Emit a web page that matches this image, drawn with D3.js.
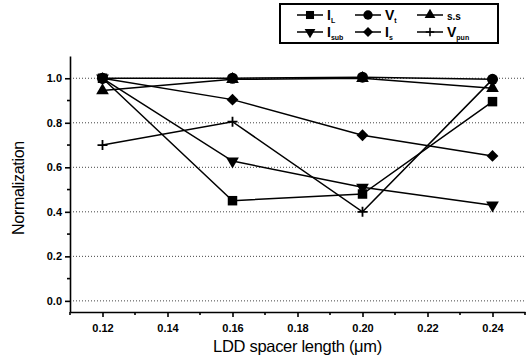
<!DOCTYPE html>
<meta charset="utf-8">
<style>
body { margin: 0; background: #fff; }
svg { font-family: "Liberation Sans", Arial, sans-serif; }
.tick text { font-size: 11px; font-weight: bold; fill: #000; }
.axis path, .axis line { stroke: #000; stroke-width: 1.6; }
.grid line { stroke: #444; stroke-width: 1; stroke-dasharray: 1,2; }
</style>
<body>
<script src="https://cdn.jsdelivr.net/npm/d3@7"></script>
<script>
// data
var spacer = [0.12, 0.16, 0.20, 0.24];
var IL   = [1.00, 0.45, 0.48, 0.895];
var Vt   = [1.00, 1.00, 1.005, 0.995];
var ss   = [0.945, 0.995, 1.00, 0.955];
var Isub = [1.00, 0.628, 0.51, 0.43];
var Is   = [1.00, 0.904, 0.744, 0.651];
var Vpun = [0.70, 0.805, 0.40, 0.995];
var xTicks = [0.12, 0.14, 0.16, 0.18, 0.20, 0.22, 0.24];
var yTicks = [0.0, 0.2, 0.4, 0.6, 0.8, 1.0];

var series = [
  {name: "IL",   main: "I", sub: "L",   vals: IL,   shape: "square"},
  {name: "Vt",   main: "V", sub: "t",   vals: Vt,   shape: "circle"},
  {name: "ss",   main: "s.s", sub: "",  vals: ss,   shape: "triangle"},
  {name: "Isub", main: "I", sub: "sub", vals: Isub, shape: "down"},
  {name: "Is",   main: "I", sub: "s",   vals: Is,   shape: "diamond"},
  {name: "Vpun", main: "V", sub: "pun", vals: Vpun, shape: "plus"}
];

var margin = {top: 56, right: 4, bottom: 48, left: 70},
    width = 529 - margin.left - margin.right,
    height = 360 - margin.top - margin.bottom;

var svg = d3.select("body").append("svg")
    .attr("width", 529).attr("height", 360);
var g = svg.append("g")
    .attr("transform", "translate(" + margin.left + "," + margin.top + ")");

var x = d3.scaleLinear().domain([0.11, 0.25]).range([0, width]);
var y = d3.scaleLinear().domain([-0.05, 1.1]).range([height, 0]);

// dotted horizontal grid
g.append("g").attr("class", "grid")
  .selectAll("line").data(yTicks).enter().append("line")
    .attr("x1", 0).attr("x2", width)
    .attr("y1", function(d) { return y(d); })
    .attr("y2", function(d) { return y(d); });

// minor ticks
var xMinor = d3.range(0.11, 0.2501, 0.01).filter(function(v) {
  return Math.round(v * 100) % 2 === 1; });
var yMinor = [0.1, 0.3, 0.5, 0.7, 0.9];

var xAxis = g.append("g").attr("class", "axis")
  .attr("transform", "translate(0," + height + ")")
  .call(d3.axisBottom(x).tickValues(xTicks).tickSize(5).tickSizeOuter(0)
        .tickFormat(d3.format(".2f")));
xAxis.selectAll(".tick text").attr("dy", "1.1em");
xAxis.append("g").selectAll("line").data(xMinor).enter().append("line")
  .attr("x1", function(d) { return x(d); }).attr("x2", function(d) { return x(d); })
  .attr("y1", 0).attr("y2", 3).attr("stroke", "#000").attr("stroke-width", 1.4);

var yAxis = g.append("g").attr("class", "axis")
  .call(d3.axisLeft(y).tickValues(yTicks).tickSize(5).tickSizeOuter(0)
        .tickFormat(d3.format(".1f")));
yAxis.append("g").selectAll("line").data(yMinor).enter().append("line")
  .attr("y1", function(d) { return y(d); }).attr("y2", function(d) { return y(d); })
  .attr("x1", 0).attr("x2", -3).attr("stroke", "#000").attr("stroke-width", 1.4);

// axis titles
svg.append("text")
  .attr("x", margin.left + x(0.18)).attr("y", 352)
  .attr("text-anchor", "middle").style("font-size", "16.5px")
  .style("letter-spacing", "-0.3px")
  .text("LDD spacer length (\u03bcm)");
svg.append("text")
  .attr("transform", "translate(24,188) rotate(-90)")
  .attr("text-anchor", "middle").style("font-size", "16px")
  .style("letter-spacing", "-0.3px")
  .text("Normalization");

// marker drawing
function marker(sel, shape, s) {
  s = s || 1;
  if (shape === "plus") {
    sel.append("path").attr("d", "M-5,0H5M0,-5V5")
      .attr("stroke", "#000").attr("stroke-width", 1.8).attr("fill", "none")
      .attr("transform", "scale(" + s + ")");
    return;
  }
  var sym = {square: d3.symbolSquare, circle: d3.symbolCircle,
             triangle: d3.symbolTriangle, down: d3.symbolTriangle,
             diamond: d3.symbolSquare}[shape];
  var size = {square: 90, circle: 95, triangle: 70, down: 70, diamond: 70}[shape];
  var rot = shape === "down" ? 180 : shape === "diamond" ? 45 : 0;
  sel.append("path").attr("d", d3.symbol().type(sym).size(size * s * s)())
    .attr("fill", "#000")
    .attr("transform", "rotate(" + rot + ")");
}

var line = d3.line()
  .x(function(d, i) { return x(spacer[i]); })
  .y(function(d) { return y(d); });

series.forEach(function(s) {
  g.append("path").datum(s.vals).attr("d", line)
    .attr("fill", "none").attr("stroke", "#000").attr("stroke-width", 1.5);
});
series.forEach(function(s) {
  g.append("g").selectAll("g").data(s.vals).enter().append("g")
    .attr("transform", function(d, i) {
      return "translate(" + x(spacer[i]) + "," + y(d) + ")"; })
    .each(function() { marker(d3.select(this), s.shape); });
});

// legend
var leg = svg.append("g");
leg.append("rect").attr("x", 280).attr("y", 4).attr("width", 218).attr("height", 39)
  .attr("fill", "#fff").attr("stroke", "#000").attr("stroke-width", 2);
var colX = [310, 368, 430], rowY = [15, 32];
series.forEach(function(s, k) {
  var cx = colX[k % 3], cy = rowY[Math.floor(k / 3)];
  var it = leg.append("g").attr("transform", "translate(" + cx + "," + cy + ")");
  it.append("line").attr("x1", -13).attr("x2", 13).attr("stroke", "#000").attr("stroke-width", 1.5);
  marker(it, s.shape, 0.85);
  var t = it.append("text").attr("x", 17).attr("y", 5)
    .style("font-size", s.sub === "" ? "10px" : "14px").style("font-weight", "bold")
    .text(s.main);
  if (s.sub) t.append("tspan").attr("dy", 3).style("font-size", "7px").text(s.sub);
});
</script>
</body>
